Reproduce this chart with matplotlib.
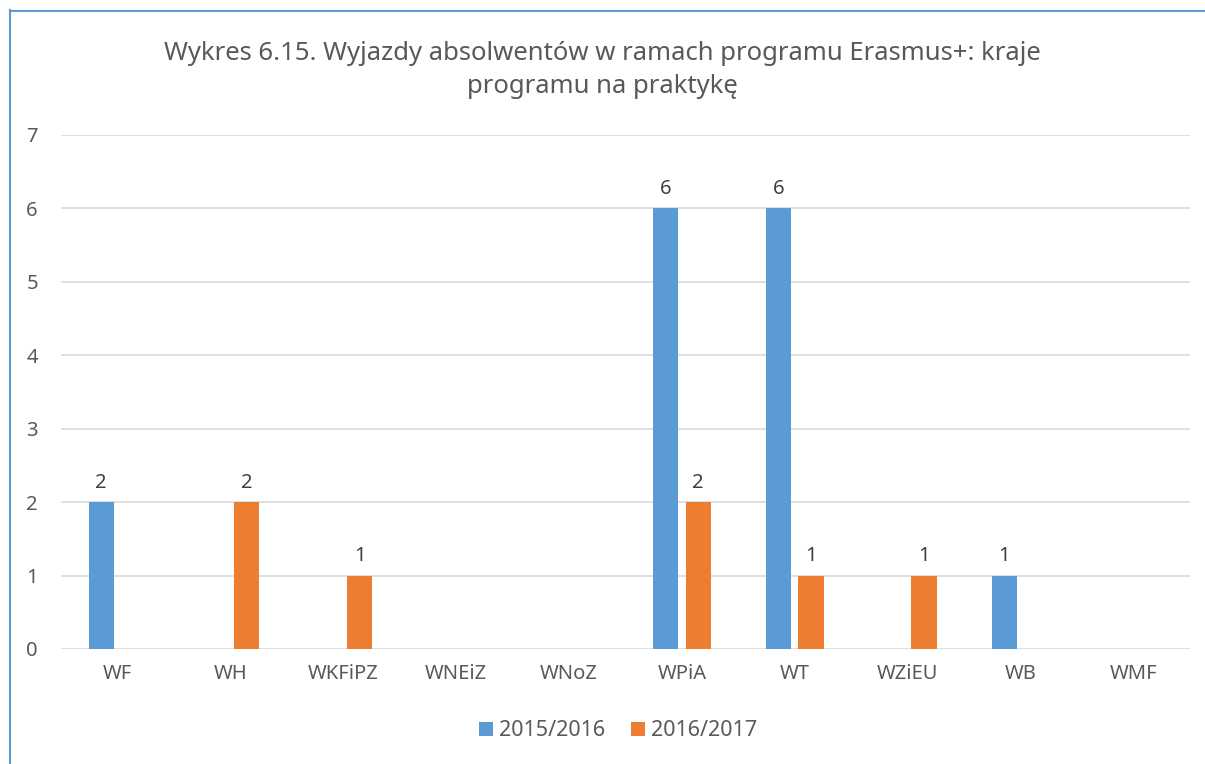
import matplotlib
matplotlib.use("Agg")
import matplotlib.pyplot as plt
from matplotlib.lines import Line2D
import numpy as np

categories = ["WF", "WH", "WKFiPZ", "WNEiZ", "WNoZ", "WPiA", "WT", "WZiEU", "WB", "WMF"]
s2015 = [2, 0, 0, 0, 0, 6, 6, 0, 1, 0]
s2016 = [0, 2, 1, 0, 0, 2, 1, 1, 0, 0]
series_names = ["2015/2016", "2016/2017"]
title = "Wykres 6.15. Wyjazdy absolwentów w ramach programu Erasmus+: kraje\nprogramu na praktykę"

plt.rcParams['font.family'] = ['Noto Sans', 'DejaVu Sans']
txt = "#595959"
c1, c2 = "#5B9BD5", "#ED7D31"

W, H = 1205, 764
fig = plt.figure(figsize=(W/100, H/100), dpi=100)
ax = fig.add_axes([61/W, 1-649/H, (1190-61)/W, (649-135)/H])

x = np.arange(len(categories))
bw = 0.224
off = 0.144
b1 = ax.bar(x - off, s2015, bw, color=c1, label=series_names[0], zorder=3)
b2 = ax.bar(x + off, s2016, bw, color=c2, label=series_names[1], zorder=3)
for bars, vals in ((b1, s2015), (b2, s2016)):
    for r, v in zip(bars, vals):
        if v:
            ax.text(r.get_x()+r.get_width()/2, v + 0.13, str(v), ha='center', va='bottom',
                    fontsize=14.5, color="#404040")

ax.set_xlim(-0.5, len(categories)-0.5)
ax.set_ylim(0, 7)
ax.set_yticks(range(0, 8))
ax.set_xticks(x)
ax.set_xticklabels(categories)
ax.tick_params(axis='both', length=0, labelsize=14.5, colors=txt)
ax.tick_params(axis='x', pad=11)
ax.tick_params(axis='y', pad=25)
for lab in ax.get_yticklabels():
    lab.set_horizontalalignment('left')
ax.grid(axis='y', color="#d9d9d9", linewidth=1.2, zorder=0)
for s in ax.spines.values():
    s.set_visible(False)

fig.text(0.5, 1-70/H, title, ha='center', va='center', fontsize=18.5, color=txt, linespacing=1.45)

leg = fig.legend(handles=[b1, b2], labels=series_names, loc='center', bbox_to_anchor=(618/W, 1-731/H),
                 ncol=2, frameon=False, fontsize=15.5, handlelength=0.65, handleheight=0.65,
                 handletextpad=0.3, columnspacing=1.2, labelcolor=txt)

# chart border (left and top edges visible)
fig.add_artist(Line2D([9.5/W, 9.5/W], [0, 1-10/H], color=c1, linewidth=1.5, transform=fig.transFigure))
fig.add_artist(Line2D([9.5/W, 1], [1-10.5/H, 1-10.5/H], color=c1, linewidth=1.5, transform=fig.transFigure))

fig.savefig("out.png", dpi=100)
